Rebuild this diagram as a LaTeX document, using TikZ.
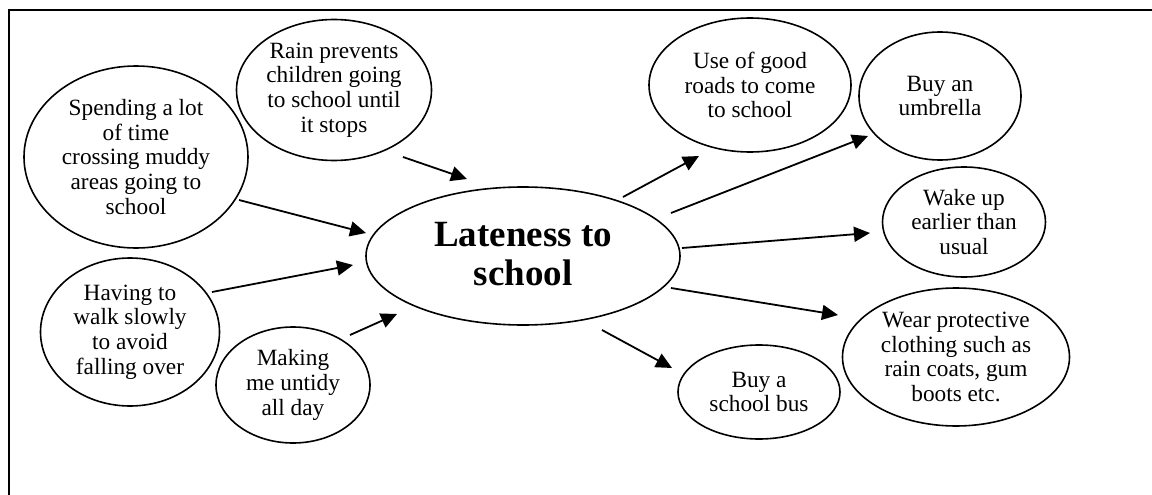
\documentclass[tikz,border=0pt]{standalone}
\usepackage{fontspec}
\setmainfont{Liberation Serif}
\usetikzlibrary{shapes.geometric,arrows.meta}
\begin{document}
\begin{tikzpicture}[x=1pt,y=-1pt,
  ell/.style={draw,ellipse,line width=1.6pt,inner sep=0pt},
  txt/.style={align=center,font=\fontsize{23.3}{24.7}\selectfont,inner sep=0pt},
  big/.style={align=center,font=\fontsize{37}{38.5}\selectfont\bfseries,inner sep=0pt},
  arr/.style={line width=1.8pt,-{Triangle[length=16pt,width=15pt]}},
  frame/.style={line width=2pt}]
\useasboundingbox (0,0) rectangle (1152,495);
\coordinate (ftl) at (9,10);
\coordinate (fbl) at (9,495);
\coordinate (ftr) at (1152,10);
\draw[frame] (fbl) -- (ftl) -- (ftr);

% central
\node[ell,minimum width=314pt,minimum height=138pt] (late) at (523,256) {};
\node[big] (late-t) at (523,254) {Lateness to\\school};

% causes
\node[ell,minimum width=224pt,minimum height=182pt] (spend) at (136,157) {};
\node[txt] (spend-t) at (spend) {Spending a lot\\of time\\crossing muddy\\areas going to\\school};

\node[ell,minimum width=195pt,minimum height=141pt] (rain) at (334,90) {};
\node[txt] (rain-t) at (rain) {Rain prevents\\children going\\to school until\\it stops};

\node[ell,minimum width=179pt,minimum height=148pt] (having) at (130,332) {};
\node[txt] (having-t) at (having) {Having to\\walk slowly\\to avoid\\falling over};

\node[ell,minimum width=154pt,minimum height=116pt] (making) at (293,385) {};
\node[txt] (making-t) at (making) {Making\\me untidy\\all day};

% solutions
\node[ell,minimum width=202pt,minimum height=134pt] (use) at (750,85) {};
\node[txt] (use-t) at (use) {Use of good\\roads to come\\to school};

\node[ell,minimum width=162pt,minimum height=128pt] (umb) at (940,96) {};
\node[txt] (umb-t) at (umb) {Buy an\\umbrella};

\node[ell,minimum width=163pt,minimum height=110pt] (wake) at (964,222) {};
\node[txt] (wake-t) at (wake) {Wake up\\earlier than\\usual};

\node[ell,minimum width=227pt,minimum height=138pt] (wear) at (956,357) {};
\node[txt] (wear-t) at (wear) {Wear protective\\clothing such as\\rain coats, gum\\boots etc.};

\node[ell,minimum width=162pt,minimum height=94pt] (bus) at (759,392) {};
\node[txt] (bus-t) at (bus) {Buy a\\school bus};

% arrow end points
\coordinate (rain-a) at (403,157);   \coordinate (rain-b) at (467,179);
\coordinate (spend-a) at (239,200);  \coordinate (spend-b) at (366,233);
\coordinate (having-a) at (212,292); \coordinate (having-b) at (353,265);
\coordinate (making-a) at (350,335); \coordinate (making-b) at (397,314);
\coordinate (use-a) at (623,197);    \coordinate (use-b) at (699,156);
\coordinate (umb-a) at (671,213);    \coordinate (umb-b) at (868,136);
\coordinate (wake-a) at (682,248);   \coordinate (wake-b) at (870,233);
\coordinate (wear-a) at (671,288);   \coordinate (wear-b) at (838,315);
\coordinate (bus-a) at (602,330);    \coordinate (bus-b) at (672,368);

\draw[arr] (rain-a) -- (rain-b);
\draw[arr] (spend-a) -- (spend-b);
\draw[arr] (having-a) -- (having-b);
\draw[arr] (making-a) -- (making-b);
\draw[arr] (use-a) -- (use-b);
\draw[arr] (umb-a) -- (umb-b);
\draw[arr] (wake-a) -- (wake-b);
\draw[arr] (wear-a) -- (wear-b);
\draw[arr] (bus-a) -- (bus-b);
\end{tikzpicture}
\end{document}
